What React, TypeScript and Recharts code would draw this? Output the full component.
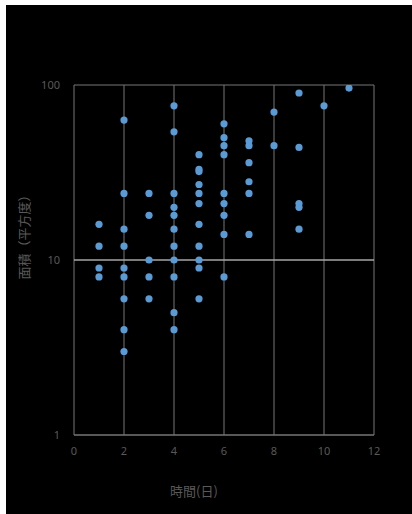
import { ScatterChart, Scatter, XAxis, YAxis, CartesianGrid, ReferenceLine } from 'recharts'

// 日数と面積（読み取り値）
const days = [
  1, 1, 1, 1,
  2, 2, 2, 2, 2, 2, 2, 2, 2,
  3, 3, 3, 3, 3,
  4, 4, 4, 4, 4, 4, 4, 4, 4, 4, 4,
  5, 5, 5, 5, 5, 5, 5, 5, 5, 5, 5,
  6, 6, 6, 6, 6, 6, 6, 6, 6,
  7, 7, 7, 7, 7, 7,
  8, 8,
  9, 9, 9, 9, 9,
  10,
  11,
]
const areas = [
  16, 12, 9, 8,
  63, 24, 15, 12, 9, 8, 6, 4, 3,
  24, 18, 10, 8, 6,
  76, 54, 24, 20, 18, 15, 12, 10, 8, 5, 4,
  40, 33, 32, 27, 24, 21, 16, 12, 10, 9, 6,
  60, 50, 45, 40, 24, 21, 18, 14, 8,
  48, 45, 36, 28, 24, 14,
  70, 45,
  90, 44, 21, 20, 15,
  76,
  96,
]
const xTicks = [0, 2, 4, 6, 8, 10, 12]
const yTicks = [1, 10, 100]

const points = days.map((d, i) => ({ x: d, y: areas[i] }))

const gray = '#767676'
const tickStyle = { fill: '#595959', fontSize: 11, fontFamily: '"Noto Sans", sans-serif' }
const titleStyle: React.CSSProperties = {
  position: 'absolute', color: '#595959', fontSize: 13,
  fontFamily: '"Noto Sans CJK JP", sans-serif', whiteSpace: 'nowrap',
}

const Dot = (props: any) => <circle cx={props.cx} cy={props.cy} r={3.6} fill="#5B9BD5" />

export default function App() {
  return (
    <div style={{ position: 'absolute', left: 6, top: 5, width: 406, height: 509, background: '#000' }}>
      <ScatterChart width={406} height={509} margin={{ top: 80, right: 38, left: 28, bottom: 49 }}>
        <CartesianGrid stroke={gray} />
        <XAxis
          type="number" dataKey="x" domain={[0, 12]} ticks={xTicks} allowDataOverflow
          axisLine={{ stroke: gray }} tickLine={false} tick={tickStyle} tickMargin={6} height={30}
        />
        <YAxis
          type="number" dataKey="y" scale="log" domain={[1, 100]} ticks={yTicks} allowDataOverflow
          axisLine={false} tickLine={false} tick={tickStyle} tickMargin={8} width={40}
        />
        <ReferenceLine y={10} stroke="#bfbfbf" />
        <Scatter data={points} shape={Dot} isAnimationActive={false} />
      </ScatterChart>
      <div style={{ ...titleStyle, left: 164, top: 476 }}>時間(日)</div>
      <div style={{ ...titleStyle, left: 17, top: 229, transform: 'translate(-50%, -50%) rotate(-90deg)' }}>面積（平方度）</div>
    </div>
  )
}
